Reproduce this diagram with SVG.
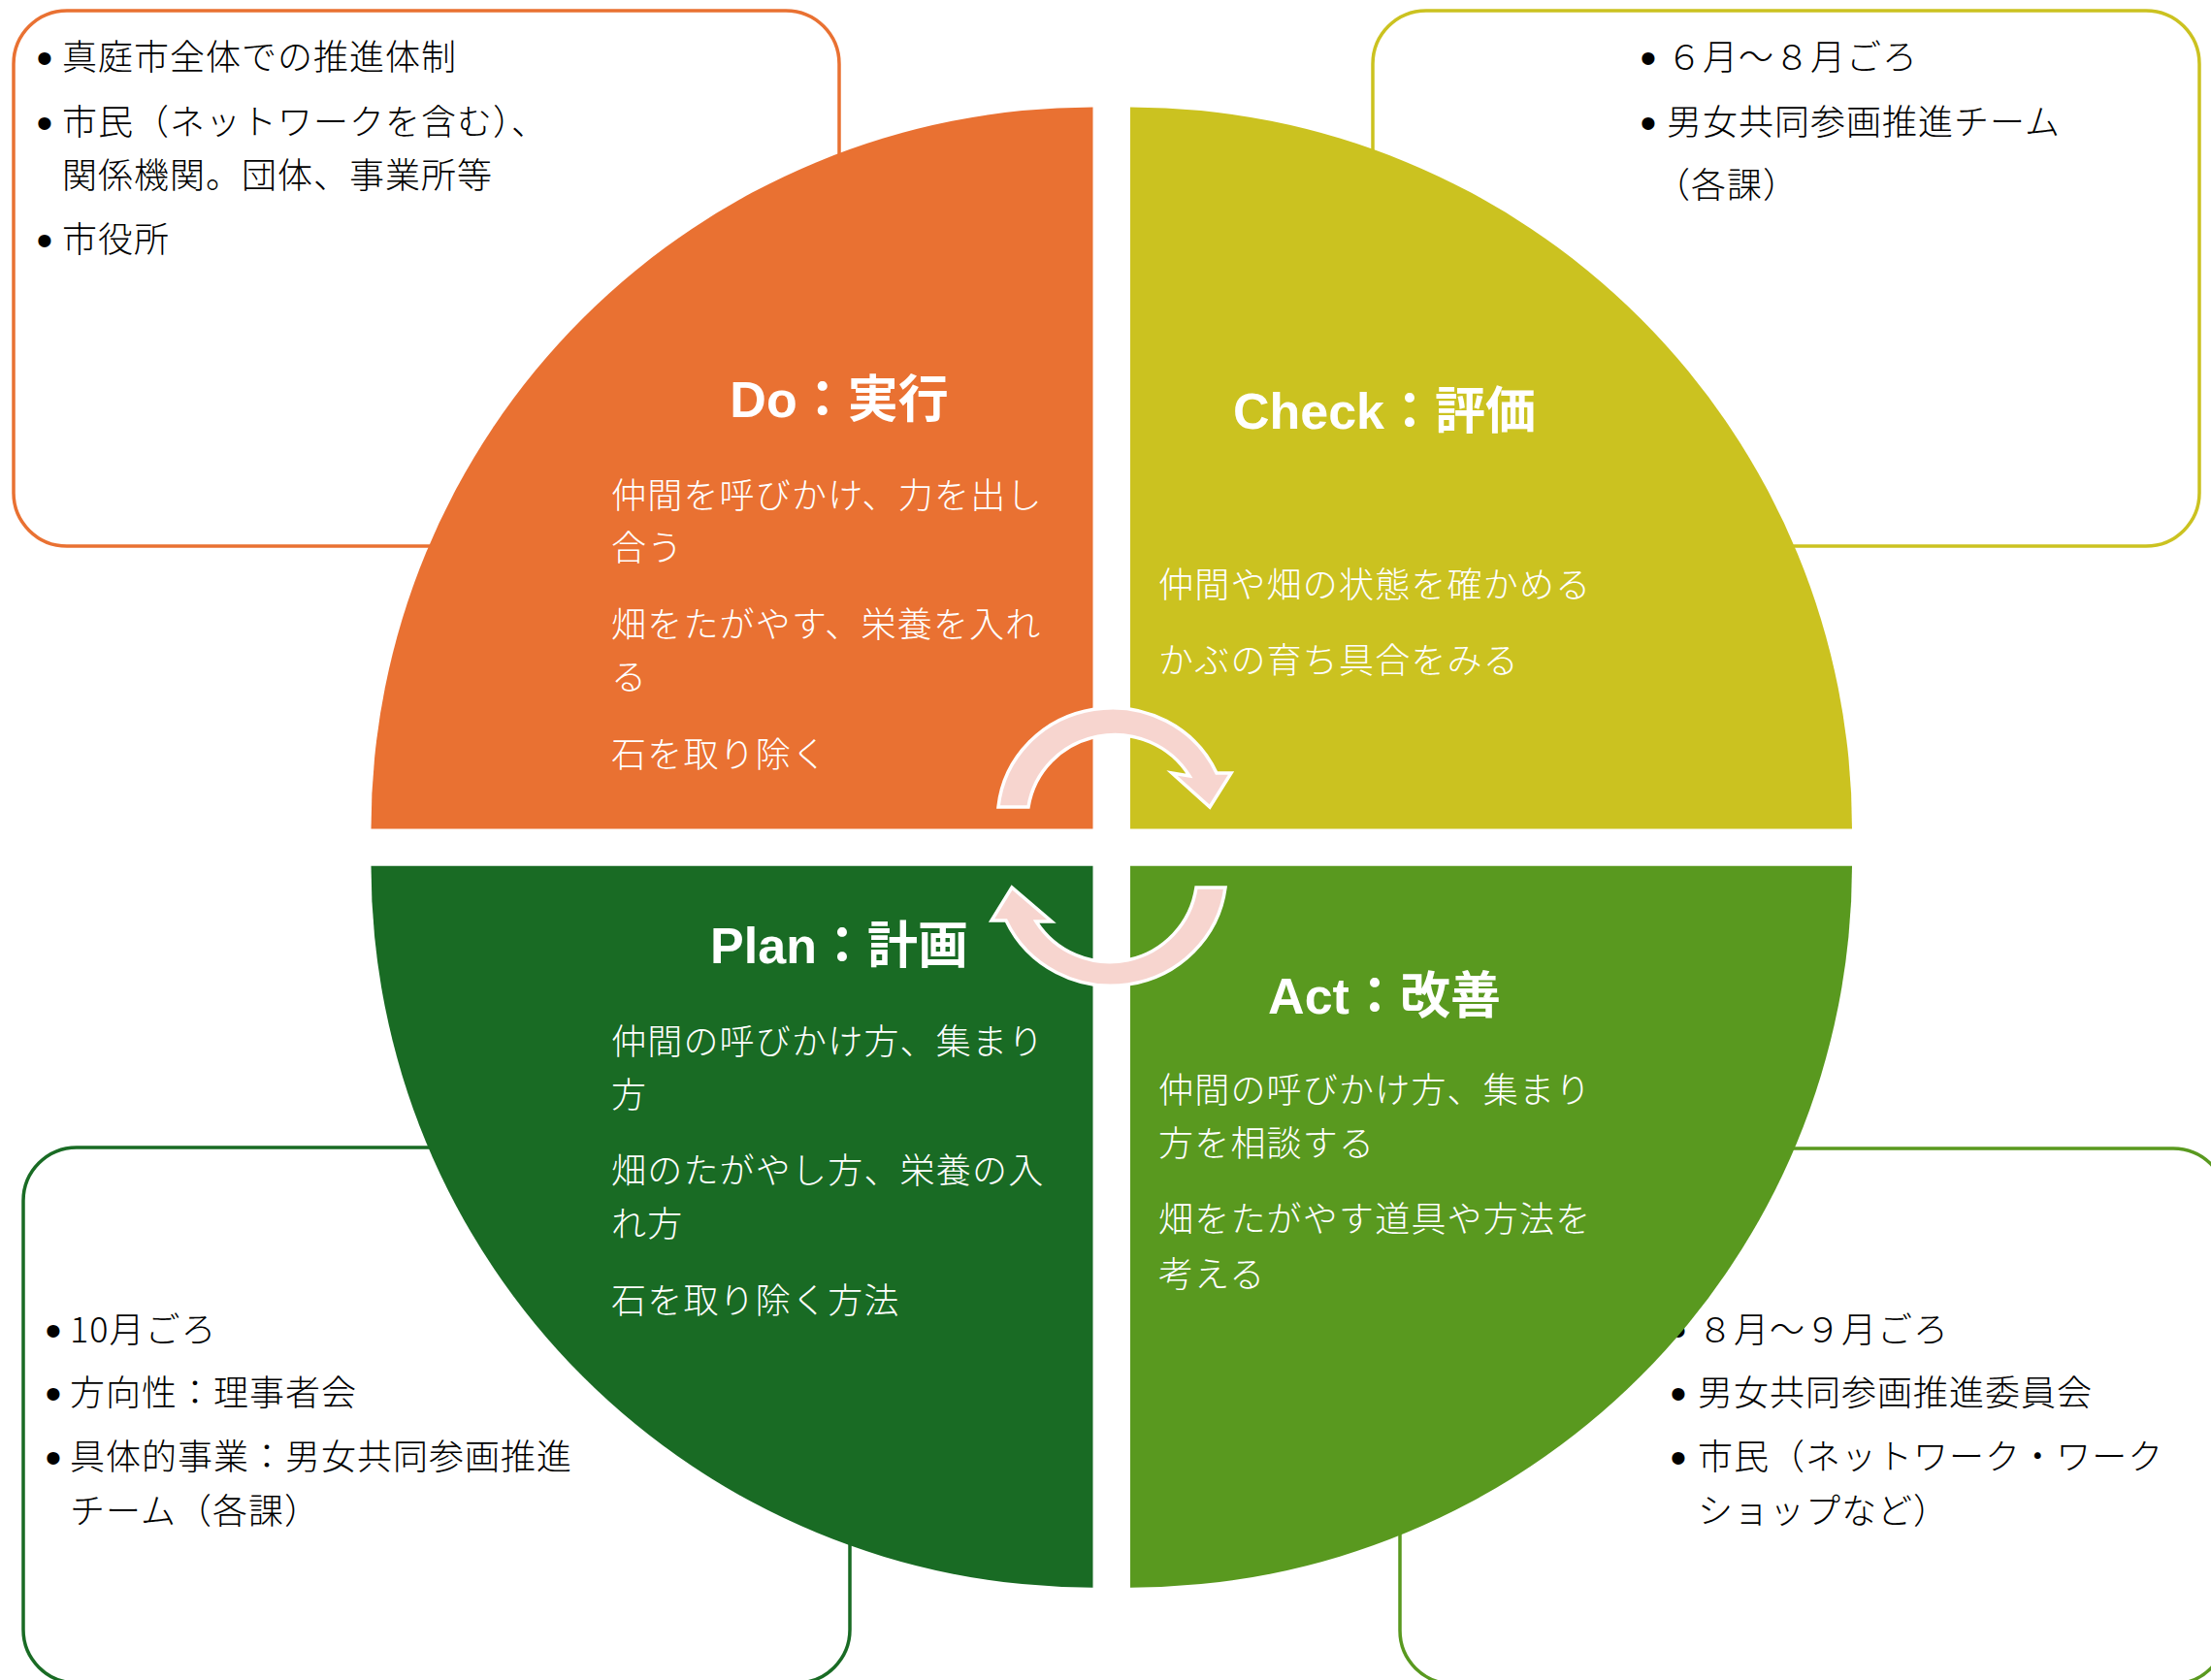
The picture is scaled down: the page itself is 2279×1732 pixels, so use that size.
<svg xmlns="http://www.w3.org/2000/svg" width="2279" height="1732" viewBox="0 0 2279 1732">
<style>
.box{fill:#fff;stroke-width:3.5}
.bt{font-family:"Noto Sans CJK JP","Noto Sans",sans-serif;font-size:36px;font-weight:300;fill:#000;letter-spacing:1px}
.bul{font-family:"Liberation Sans",sans-serif;font-size:48px;fill:#000;text-anchor:middle}
.title{font-family:"Liberation Sans","Noto Sans CJK JP",sans-serif;font-size:52px;font-weight:bold;fill:#fff;text-anchor:middle}
.body{font-family:"Noto Sans CJK JP","Noto Sans",sans-serif;font-size:36px;font-weight:300;fill:#fff;letter-spacing:1.2px}
.arrow{fill:#F7D5CF;stroke:#fff;stroke-width:3.5;stroke-linejoin:miter}
</style>
<rect width="2279" height="1732" fill="#fff"/>

<g id="box-do">
<rect class="box" x="14" y="11" width="851" height="552" rx="55" stroke="#E97132"/>
<text class="bul" x="46" y="76">•</text>
<text class="bt" x="64" y="72">真庭市全体での推進体制</text>
<text class="bul" x="46" y="143">•</text>
<text class="bt" x="64" y="139">市民（ネットワークを含む）、</text>
<text class="bt" x="64" y="194">関係機関。団体、事業所等</text>
<text class="bul" x="46" y="264">•</text>
<text class="bt" x="64" y="260">市役所</text>
</g>

<g id="box-check">
<rect class="box" x="1415" y="11" width="852" height="552" rx="55" stroke="#CBC220"/>
<text class="bul" x="1699" y="76">•</text>
<text class="bt" x="1718" y="72">６月～８月ごろ</text>
<text class="bul" x="1699" y="143">•</text>
<text class="bt" x="1718" y="139">男女共同参画推進チーム</text>
<text class="bt" x="1706" y="204">（各課）</text>
</g>

<g id="box-plan">
<rect class="box" x="24" y="1183" width="852" height="552" rx="55" stroke="#196B24"/>
<text class="bul" x="55" y="1388">•</text>
<text class="bt" x="72" y="1384">10月ごろ</text>
<text class="bul" x="55" y="1453">•</text>
<text class="bt" x="72" y="1449">方向性：理事者会</text>
<text class="bul" x="55" y="1519">•</text>
<text class="bt" x="72" y="1515">具体的事業：男女共同参画推進</text>
<text class="bt" x="72" y="1571">チーム（各課）</text>
</g>

<g id="box-act">
<rect class="box" x="1443" y="1184" width="852" height="552" rx="55" stroke="#59991F"/>
<text class="bul" x="1730" y="1388">•</text>
<text class="bt" x="1750" y="1384">８月～９月ごろ</text>
<text class="bul" x="1730" y="1453">•</text>
<text class="bt" x="1750" y="1449">男女共同参画推進委員会</text>
<text class="bul" x="1730" y="1519">•</text>
<text class="bt" x="1750" y="1515">市民（ネットワーク・ワーク</text>
<text class="bt" x="1750" y="1571">ショップなど）</text>
</g>

<g id="do">
<path d="M1126.5,854.5 L382.5,854.5 A744,744 0 0 1 1126.5,110.5 Z" fill="#E97132"/>
<text class="title" x="865" y="430">Do：実行</text>
<text class="body" x="630" y="524">仲間を呼びかけ、力を出し</text>
<text class="body" x="630" y="578">合う</text>
<text class="body" x="630" y="657">畑をたがやす、栄養を入れ</text>
<text class="body" x="630" y="711">る</text>
<text class="body" x="630" y="791">石を取り除く</text>
</g>

<g id="check">
<path d="M1165,854.5 L1165,110.5 A744,744 0 0 1 1909,854.5 Z" fill="#CBC220"/>
<text class="title" x="1427" y="442">Check：評価</text>
<text class="body" x="1194" y="616">仲間や畑の状態を確かめる</text>
<text class="body" x="1194" y="694">かぶの育ち具合をみる</text>
</g>

<g id="plan">
<path d="M1126.5,892.7 L1126.5,1636.7 A744,744 0 0 1 382.5,892.7 Z" fill="#196B24"/>
<text class="title" x="865" y="993">Plan：計画</text>
<text class="body" x="630" y="1087">仲間の呼びかけ方、集まり</text>
<text class="body" x="630" y="1142">方</text>
<text class="body" x="630" y="1220">畑のたがやし方、栄養の入</text>
<text class="body" x="630" y="1275">れ方</text>
<text class="body" x="630" y="1354">石を取り除く方法</text>
</g>

<g id="act">
<path d="M1165,892.7 L1909,892.7 A744,744 0 0 1 1165,1636.7 Z" fill="#59991F"/>
<text class="title" x="1427" y="1045">Act：改善</text>
<text class="body" x="1194" y="1137">仲間の呼びかけ方、集まり</text>
<text class="body" x="1194" y="1192">方を相談する</text>
<text class="body" x="1194" y="1270">畑をたがやす道具や方法を</text>
<text class="body" x="1194" y="1327">考える</text>
</g>

<g id="connectors">
<path class="arrow" d="M1029,832 A118,114 0 0 1 1254,797 L1269,797 L1247,832 L1208,797 L1226,800 A90,88 0 0 0 1060,832 Z"/>
<path class="arrow" d="M1263,915 A119,116 0 0 1 1037,949 L1022,949 L1043,915 L1084,950 L1068,950 A90,90 0 0 0 1233,915 Z"/>
</g>
</svg>
